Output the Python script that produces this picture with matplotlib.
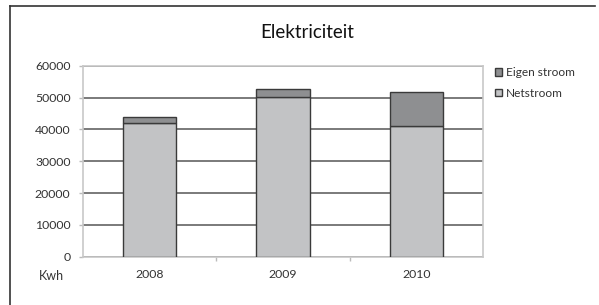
import numpy as np
import matplotlib.pyplot as plt
from matplotlib.patches import Patch
from matplotlib.lines import Line2D

years = ["2008", "2009", "2010"]
netstroom = [42000, 50200, 41000]
eigen_stroom = [2000, 2400, 10800]
yticks = [0, 10000, 20000, 30000, 40000, 50000, 60000]

plt.rcParams['font.family'] = ['Lato', 'DejaVu Sans']

fig = plt.figure(figsize=(5.99, 3.05), dpi=100)
ax = fig.add_axes([83/599, 1-256.7/305, 400/599, 191/305])

x = np.arange(len(years))
ax.bar(x, netstroom, width=0.4, color='#c2c3c5', edgecolor='#3a3a3a', linewidth=1.0, zorder=3)
ax.bar(x, eigen_stroom, width=0.4, bottom=netstroom, color='#8e8f91',
       edgecolor='#3a3a3a', linewidth=1.0, zorder=3)

ax.set_xlim(-0.5, 2.5)
ax.set_ylim(0, 60000)
ax.set_yticks(yticks)
ax.set_yticklabels([str(v) for v in yticks], fontsize=8.8, color='#333333')
ax.set_xticks(x)
ax.set_xticklabels(years, fontsize=8.8, color='#333333')
ax.set_xticks([0.5, 1.5], minor=True)
ax.tick_params(axis='x', which='major', length=0, pad=9)
ax.tick_params(axis='x', which='minor', length=3, color='#bbbbbb', width=1)
ax.tick_params(axis='y', length=3, color='#bbbbbb', width=1, pad=6)

ax.grid(axis='y', color='#7a7a7a', linewidth=1.4, zorder=0)
for s in ax.spines.values():
    s.set_color('#c8c8c8')
    s.set_linewidth(1.2)
ax.spines['left'].set_zorder(4)

fig.text(307/599, 1-33/305, "Elektriciteit", ha='center', va='center', fontsize=13.5, color='#111111')
fig.text(39/599, 1-276/305, "Kwh", ha='left', va='center', fontsize=9, color='#333333')

handles = [Patch(facecolor='#8e8f91', edgecolor='#3a3a3a'),
           Patch(facecolor='#c2c3c5', edgecolor='#3a3a3a')]
fig.legend(handles, ["Eigen stroom", "Netstroom"], loc='upper left',
           bbox_to_anchor=(489/599, 1-61/305), frameon=False, fontsize=8.6,
           handlelength=0.6, handleheight=0.6, handletextpad=0.3,
           labelspacing=0.8, labelcolor='#333333', borderpad=0)

# outer frame (top and left edge)
fig.add_artist(Line2D([9.5/599, 9.5/599], [0, 1-5.7/305], color='#333333', linewidth=1.2))
fig.add_artist(Line2D([9.5/599, 595/599], [1-5.7/305, 1-5.7/305], color='#333333', linewidth=1.2))

fig.savefig("out.png", dpi=100)
